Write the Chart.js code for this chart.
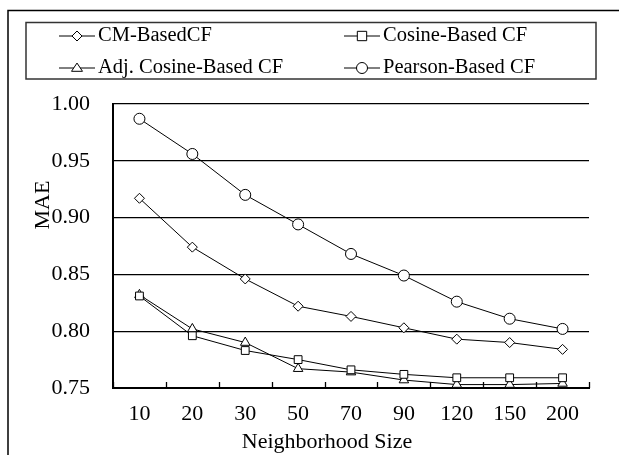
<!DOCTYPE html>
<html>
<head>
<meta charset="utf-8">
<script src="https://cdn.jsdelivr.net/npm/chart.js@4.4.1/dist/chart.umd.min.js"></script>
<style>
  html, body { margin: 0; padding: 0; background: #fff; }
  #wrap { width: 619px; height: 455px; position: relative; }
</style>
</head>
<body>
<div id="wrap"><canvas id="maeChart" width="619" height="455"></canvas></div>
<script>
// --- Data ---
const neighborhoodSizes = ['10', '20', '30', '50', '70', '90', '120', '150', '200'];

const cmBased = [0.917, 0.874, 0.846, 0.822, 0.813, 0.803, 0.793, 0.790, 0.784];
const cosineBased = [0.831, 0.796, 0.783, 0.775, 0.766, 0.762, 0.759, 0.759, 0.759];
const adjCosineBased = [0.832, 0.802, 0.790, 0.767, 0.764, 0.757, 0.753, 0.753, 0.754];
const pearsonBased = [0.987, 0.956, 0.920, 0.894, 0.868, 0.849, 0.826, 0.811, 0.802];

const seriesLabels = ['CM-BasedCF', 'Cosine-Based CF', 'Adj. Cosine-Based CF', 'Pearson-Based CF'];
const seriesMarkers = ['rectRot', 'rect', 'triangle', 'circle'];

const yTicks = [0.75, 0.80, 0.85, 0.90, 0.95, 1.00];

const xTitle = 'Neighborhood Size';
const yTitle = 'MAE';

const FONT = '"Liberation Serif", "Times New Roman", serif';

// --- Marker drawing (used by the legend) ---
function drawMarker(ctx, style, x, y, r) {
  ctx.beginPath();
  if (style === 'circle') {
    ctx.arc(x, y, r, 0, Math.PI * 2);
  } else if (style === 'rect') {
    ctx.rect(x - r * 0.85, y - r * 0.85, r * 1.7, r * 1.7);
  } else if (style === 'rectRot') {
    ctx.moveTo(x, y - r);
    ctx.lineTo(x + r, y);
    ctx.lineTo(x, y + r);
    ctx.lineTo(x - r, y);
    ctx.closePath();
  } else if (style === 'triangle') {
    const h = r * 1.5;
    ctx.moveTo(x, y - h * 0.6);
    ctx.lineTo(x + r, y + h * 0.4);
    ctx.lineTo(x - r, y + h * 0.4);
    ctx.closePath();
  }
  ctx.fillStyle = '#fff';
  ctx.fill();
  ctx.stroke();
}

// --- Frame, legend box, axis titles and inward x ticks ---
const decorPlugin = {
  id: 'decor',
  afterDraw(chart) {
    const ctx = chart.ctx;
    const area = chart.chartArea;
    const xScale = chart.scales.x;

    ctx.save();
    ctx.strokeStyle = '#000';

    // outer frame (only left + top edges show)
    ctx.lineWidth = 1.5;
    ctx.beginPath();
    ctx.moveTo(8, 455);
    ctx.lineTo(8, 10.5);
    ctx.lineTo(619, 10.5);
    ctx.stroke();

    // legend box
    ctx.strokeStyle = '#333';
    ctx.strokeRect(26, 22.5, 570, 56.5);

    // legend entries, two columns
    const colX = [59, 344];
    const rowY = [36, 68];
    ctx.font = '20.5px ' + FONT;
    ctx.textBaseline = 'middle';
    ctx.textAlign = 'left';
    chart.data.datasets.forEach((ds, i) => {
      const x = colX[i % 2];
      const y = rowY[Math.floor(i / 2)];
      ctx.strokeStyle = '#000';
      ctx.lineWidth = 1;
      ctx.beginPath();
      ctx.moveTo(x, y);
      ctx.lineTo(x + 36, y);
      ctx.stroke();
      drawMarker(ctx, ds.pointStyle, x + 18, y, ds.pointRadius);
      ctx.fillStyle = '#000';
      ctx.fillText(ds.label, x + 39, y);
    });

    // axis titles
    ctx.fillStyle = '#000';
    ctx.font = '22px ' + FONT;
    ctx.textAlign = 'center';
    ctx.textBaseline = 'alphabetic';
    ctx.fillText(xTitle, 327, 448);

    ctx.save();
    ctx.translate(49, 205);
    ctx.rotate(-Math.PI / 2);
    ctx.fillText(yTitle, 0, 0);
    ctx.restore();

    // small upward tick marks between categories
    ctx.strokeStyle = '#000';
    ctx.lineWidth = 1.3;
    const n = neighborhoodSizes.length;
    const step = xScale.getPixelForValue(1) - xScale.getPixelForValue(0);
    for (let i = 0; i <= n; i++) {
      const x = Math.round(xScale.getPixelForValue(i) - step / 2) + 0.5;
      ctx.beginPath();
      ctx.moveTo(x, area.bottom);
      ctx.lineTo(x, area.bottom - 6);
      ctx.stroke();
    }
    ctx.restore();
  }
};

function makeDataset(label, data, marker, radius) {
  return {
    label: label,
    data: data,
    borderColor: '#000',
    borderWidth: 1,
    backgroundColor: '#fff',
    pointStyle: marker,
    pointRadius: radius,
    pointBorderWidth: 1,
    pointBorderColor: '#000',
    pointBackgroundColor: '#fff',
    tension: 0,
    fill: false
  };
}

const ctxMae = document.getElementById('maeChart').getContext('2d');

new Chart(ctxMae, {
  type: 'line',
  data: {
    labels: neighborhoodSizes,
    datasets: [
      makeDataset(seriesLabels[0], cmBased, seriesMarkers[0], 5),
      makeDataset(seriesLabels[1], cosineBased, seriesMarkers[1], 5.5),
      makeDataset(seriesLabels[2], adjCosineBased, seriesMarkers[2], 5.5),
      makeDataset(seriesLabels[3], pearsonBased, seriesMarkers[3], 5.5)
    ]
  },
  options: {
    responsive: false,
    animation: false,
    layout: { padding: { top: 104, right: 30, bottom: 0, left: 0 } },
    plugins: {
      legend: { display: false },
      tooltip: { enabled: false }
    },
    scales: {
      x: {
        offset: true,
        grid: { display: true, drawOnChartArea: false, drawTicks: false },
        border: { display: true, color: '#000', width: 2 },
        ticks: {
          color: '#000',
          font: { family: FONT, size: 22 },
          padding: 13,
          maxRotation: 0
        },
        afterFit(scale) { scale.height = 67; }
      },
      y: {
        min: yTicks[0],
        max: yTicks[yTicks.length - 1],
        afterBuildTicks(scale) {
          scale.ticks = yTicks.map(v => ({ value: v }));
        },
        grid: { color: '#000', lineWidth: 1.3, drawTicks: false },
        border: { display: true, color: '#000', width: 2 },
        ticks: {
          color: '#000',
          font: { family: FONT, size: 22 },
          padding: 23,
          callback: v => Number(v).toFixed(2)
        },
        afterFit(scale) { scale.width = 113; }
      }
    }
  },
  plugins: [decorPlugin]
});
</script>
</body>
</html>
